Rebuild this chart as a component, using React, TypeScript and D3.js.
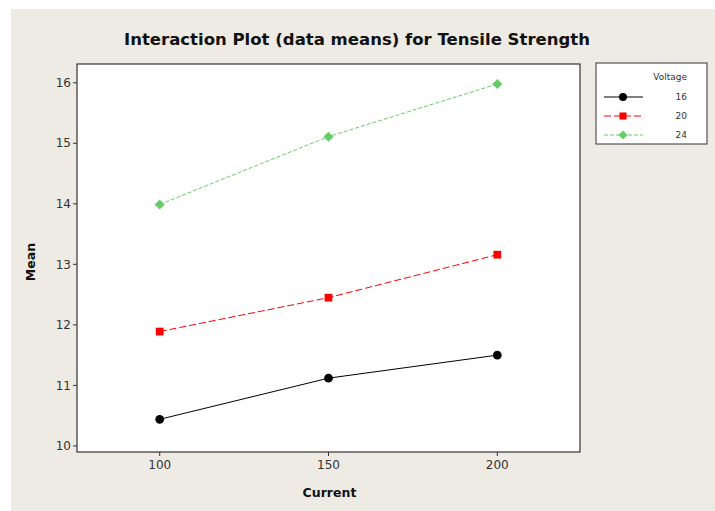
import React from 'react';
import * as d3 from 'd3';

// data means
const currents = [100, 150, 200];
const voltages = ['16', '20', '24'];
const mean16 = [10.44, 11.12, 11.5];
const mean20 = [11.89, 12.45, 13.16];
const mean24 = [13.99, 15.11, 15.98];
const yTicks = [10, 11, 12, 13, 14, 15, 16];

const W = 715;
const H = 511;
const plot = { left: 77, top: 64, right: 580, bottom: 452 };

const seriesStyle = [
  { color: '#000000', dash: '', shape: d3.symbolCircle, rot: 0 },
  { color: '#ff0000', dash: '7,3', shape: d3.symbolSquare, rot: 0 },
  { color: '#66cc66', dash: '4,2', shape: d3.symbolSquare, rot: 45 }, // diamond = rotated square
];

const App = () => {
  const x = d3.scaleLinear().domain([75.5, 224.5]).range([plot.left, plot.right]);
  const y = d3.scaleLinear().domain([9.9, 16.31]).range([plot.bottom, plot.top]);
  const series = [mean16, mean20, mean24];
  const line = d3.line<number>()
    .x((_, i) => x(currents[i]))
    .y(d => y(d));
  const font = 'Tahoma, "DejaVu Sans", Verdana, sans-serif';

  return (
    <svg width={W} height={H} style={{ position: 'absolute', left: 0, top: 0 }} fontFamily={font}>
      <rect x={0} y={0} width={W} height={H} fill="#ffffff" />
      <rect x={11} y={9} width={W - 11} height={H - 9} fill="#eeeae4" />

      <text x={357} y={45} textAnchor="middle" fontSize={16} fontWeight="bold" fill="#111"
        textLength={466} lengthAdjust="spacingAndGlyphs">
        Interaction Plot (data means) for Tensile Strength
      </text>

      {/* plot area */}
      <rect x={plot.left} y={plot.top} width={plot.right - plot.left} height={plot.bottom - plot.top}
        fill="#ffffff" stroke="#333" strokeWidth={1.2} />

      {/* y axis */}
      {yTicks.map(t => (
        <g key={t}>
          <line x1={plot.left - 4} x2={plot.left} y1={y(t)} y2={y(t)} stroke="#333" />
          <text x={plot.left - 6} y={y(t)} dy="0.35em" textAnchor="end" fontSize={12} fill="#333">{t}</text>
        </g>
      ))}
      <text transform={`translate(35,${(plot.top + plot.bottom) / 2 + 4}) rotate(-90)`} textAnchor="middle"
        fontSize={12.5} fontWeight="bold" fill="#111">Mean</text>

      {/* x axis */}
      {currents.map(c => (
        <g key={c}>
          <line x1={x(c)} x2={x(c)} y1={plot.bottom} y2={plot.bottom + 4} stroke="#333" />
          <text x={x(c)} y={plot.bottom + 17} textAnchor="middle" fontSize={12} fill="#333">{c}</text>
        </g>
      ))}
      <text x={(plot.left + plot.right) / 2 + 1} y={497} textAnchor="middle" fontSize={12.5} fontWeight="bold" fill="#111">
        Current
      </text>

      {/* series */}
      {series.map((s, k) => (
        <g key={k}>
          <path d={line(s) || ''} fill="none" stroke={seriesStyle[k].color} strokeWidth={1}
            strokeDasharray={seriesStyle[k].dash} />
          {s.map((v, i) => (
            <path key={i} transform={`translate(${x(currents[i])},${y(v)}) rotate(${seriesStyle[k].rot})`}
              d={d3.symbol().type(seriesStyle[k].shape).size(k === 2 ? 50 : 60)() || ''}
              fill={seriesStyle[k].color} />
          ))}
        </g>
      ))}

      {/* legend */}
      <rect x={596} y={63} width={111} height={81} fill="#ffffff" stroke="#333" />
      <text x={687} y={80} textAnchor="end" fontSize={9} fill="#333">Voltage</text>
      {voltages.map((v, k) => {
        const ly = 97 + k * 19;
        return (
          <g key={v}>
            <line x1={604} x2={643} y1={ly} y2={ly} stroke={seriesStyle[k].color}
              strokeDasharray={seriesStyle[k].dash} />
            <path transform={`translate(623,${ly}) rotate(${seriesStyle[k].rot})`}
              d={d3.symbol().type(seriesStyle[k].shape).size(k === 2 ? 40 : 50)() || ''} fill={seriesStyle[k].color} />
            <text x={687} y={ly} dy="0.35em" textAnchor="end" fontSize={9} fill="#333">{v}</text>
          </g>
        );
      })}
    </svg>
  );
};

export default App;
